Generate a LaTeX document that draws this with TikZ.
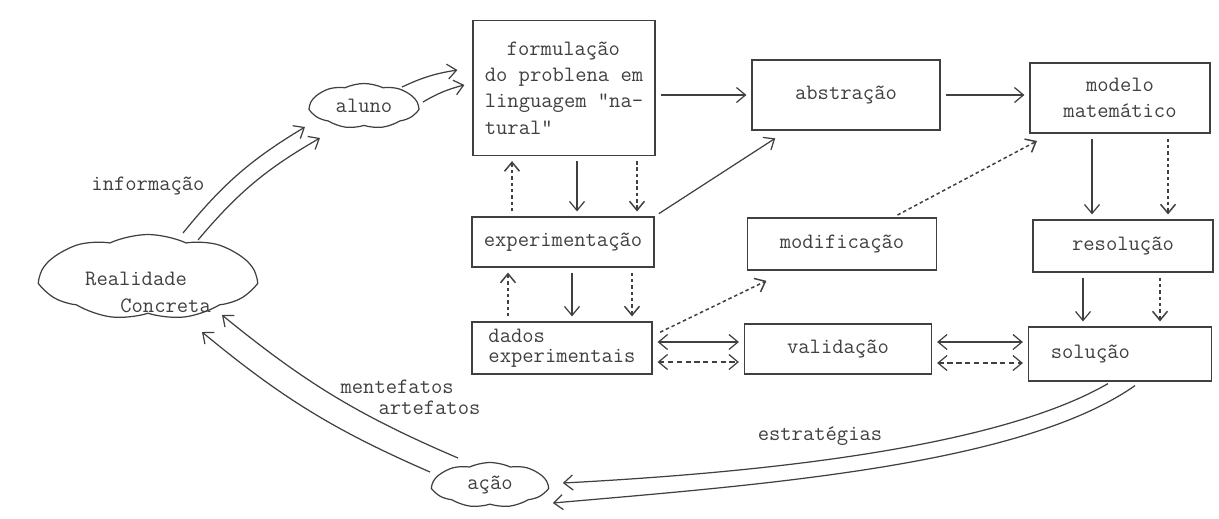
\documentclass[tikz,border=0pt]{standalone}
\usetikzlibrary{arrows.meta,calc,shapes.symbols}
\begin{document}
\begin{tikzpicture}[x=0.02cm,y=-0.02cm,
  line width=0.7pt, color=black!75,
  >={Straight Barb[length=1.8mm,width=3mm]},
  every node/.style={font=\fontsize{12.5}{15}\ttfamily},
  box/.style={draw, rectangle, inner sep=2pt},
  blob/.style={draw, cloud, cloud puffs=9, cloud puff arc=50, cloud ignores aspect, inner sep=0pt},
  link/.style={->, shorten <=1mm, shorten >=1mm},
  dotlink/.style={link, line width=0.85pt, dash pattern=on 2pt off 1.6pt},
  dashlink/.style={link, dash pattern=on 3pt off 2pt}]

  \useasboundingbox (0,0) rectangle (1219,518);

  %% clouds
  \node[blob, minimum width=2.16cm, minimum height=0.9cm] (aluno) at (364,106) {aluno};
  \node[blob, minimum width=4.3cm, minimum height=1.7cm] (real) at (148,277)
  {\raisebox{-0.7cm}[0pt][0pt]{\begin{tabular}[b]{@{}l@{}}Realidade\\
  \hspace*{1.6em}Concreta\end{tabular}}};
  \node[blob, minimum width=2.3cm, minimum height=0.9cm] (acao) at (490,485) {ação};

  %% boxes
  \node[box, minimum width=3.64cm, minimum height=2.7cm, align=left] (form) at (564,88)
  {\hspace*{1em}formulação\\do problena em\\linguagem "na-\\tural"};
  \node[box, minimum width=3.76cm, minimum height=1.4cm] (abst) at (846,95) {abstração};
  \node[box, minimum width=3.6cm, minimum height=1.4cm, align=center] (mod) at (1120,98)
  {modelo\\matemático};
  \node[box, minimum width=3.64cm, minimum height=1cm] (exp) at (563,242) {experimentação};
  \node[box, minimum width=3.78cm, minimum height=1.04cm] (modif) at (842,244) {modificação};
  \node[box, minimum width=3.6cm, minimum height=1.04cm] (resol) at (1123,246) {resolução};
  \node[box, minimum width=3.6cm, minimum height=1.04cm, align=left,
  font=\fontsize{12.5}{11.5}\ttfamily] (dados) at (562,348) {dados\\experimentais};
  \node[box, minimum width=3.74cm, minimum height=1cm] (valid) at (838,349) {validação};
  \node[box, minimum width=3.66cm, minimum height=1.08cm] (sol) at (1120,354)
  {solução\hspace*{2.7em}};

  %% labels
  \node (info) at (148,186) {informação};
  \node[anchor=base west, inner sep=0pt] (ment) at (340,393) {mentefatos};
  \node[anchor=base west, inner sep=0pt] (arte) at (378,414) {artefatos};
  \node (estr) at (820,436) {estratégias};

  %% realidade -> aluno -> formulacao
  \draw[->] ($(real)+(35,-44)$) to[bend left=10] ($(aluno)+(-59,21)$);
  \draw[->] ($(real)+(50,-37)$) to[bend left=10] ($(aluno)+(-44,32)$);
  \draw[->] ($(aluno)+(38,-19)$) to[bend left=8] ($(form.west)+(-15,-18)$);
  \draw[->] ($(aluno)+(59,-4)$) to[bend left=8] ($(form.west)+(-8,-3)$);

  %% top row
  \draw[link] (form.east |- abst.west) -- (abst.west);
  \draw[link] (abst.east) -- (abst.east -| mod.west);

  %% down the columns
  \draw[link] ($(form.south)+(13,0)$) -- ($(exp.north)+(14,0)$);
  \draw[dotlink] ($(form.south)+(73,0)$) -- ($(exp.north)+(74,0)$);
  \draw[dotlink] ($(exp.north)+(-51,0)$) -- ($(form.south)+(-52,0)$);
  \draw[link] ($(exp.south)+(9,0)$) -- ($(dados.north)+(10,0)$);
  \draw[dotlink] ($(exp.south)+(69,0)$) -- ($(dados.north)+(70,0)$);
  \draw[dotlink] ($(dados.north)+(-54,0)$) -- ($(exp.south)+(-55,0)$);
  \draw[link] ($(mod.south)+(-28,0)$) -- ($(resol.north)+(-31,0)$);
  \draw[dotlink] ($(mod.south)+(48,0)$) -- ($(resol.north)+(45,0)$);
  \draw[link] ($(resol.south)+(-40,0)$) -- ($(sol.north)+(-37,0)$);
  \draw[dotlink] ($(resol.south)+(37,0)$) -- ($(sol.north)+(40,0)$);

  %% diagonals
  \draw[link] (exp.north east) -- ($(abst.south west)+(28,5)$);
  \draw[dotlink] ($(dados.north east)+(3,13)$) -- ($(modif.south west)+(24,8)$);
  \draw[dotlink] ($(modif.north)+(51,0)$) -- ($(mod.south west)+(12,5)$);

  %% bottom row
  \draw[link,<->] ($(dados.east)+(0,-6)$) -- ($(valid.west)+(0,-7)$);
  \draw[dashlink,<->] ($(dados.east)+(0,14)$) -- ($(valid.west)+(0,13)$);
  \draw[link,<->] ($(valid.east)+(0,-7)$) -- ($(sol.west)+(0,-12)$);
  \draw[dashlink,<->] ($(valid.east)+(0,14)$) -- ($(sol.west)+(0,9)$);

  %% solucao -> acao -> realidade
  \draw[->] ($(sol.south)+(-12,2)$)
  to[out=210, in=3, out looseness=0.6, in looseness=0.9] ($(acao.east)+(14,-2)$);
  \draw[->] ($(sol.south)+(15,4)$)
  to[out=215, in=5, out looseness=0.6, in looseness=0.9] ($(acao.east)+(4,18)$);
  \draw[->] ($(acao)+(-32,-27)$) to[bend left=8] ($(real)+(74,38)$);
  \draw[->] ($(acao)+(-60,-13)$) to[bend left=8] ($(real)+(54,55)$);

\end{tikzpicture}
\end{document}
